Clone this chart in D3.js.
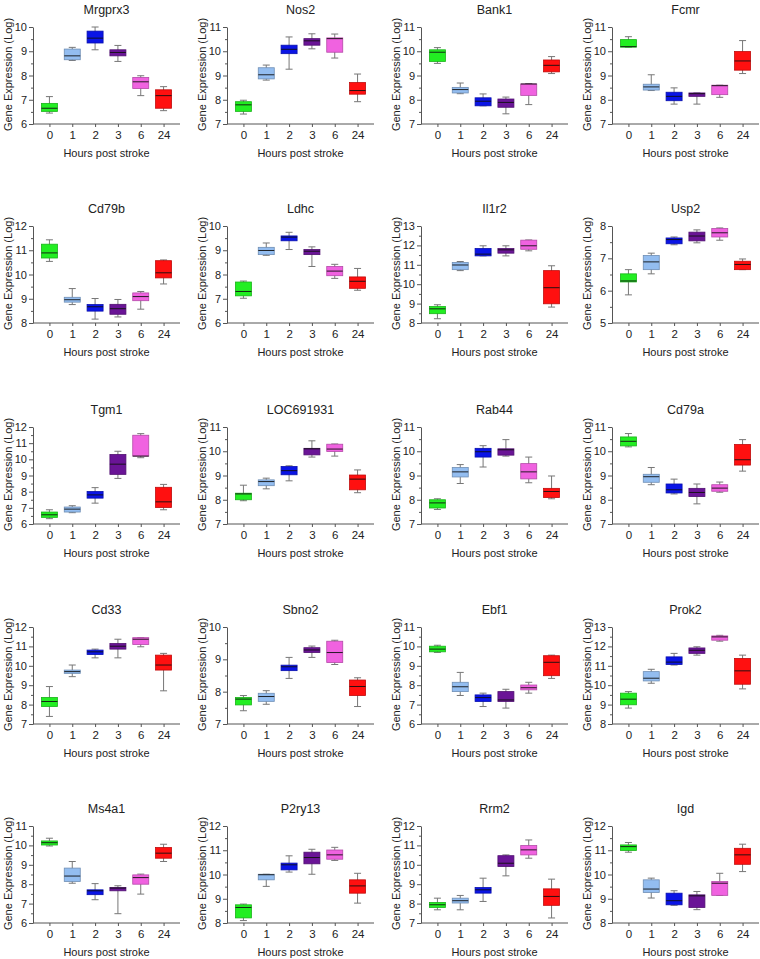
<!DOCTYPE html>
<html>
<head>
<meta charset="utf-8">
<script src="https://cdn.jsdelivr.net/npm/d3@7"></script>
<style>
  body { margin: 0; background: #fff; }
  text { font-family: "Liberation Sans", Arial, sans-serif; fill: #222; }
</style>
</head>
<body>
<div id="chart"></div>
<script>
// categories (hours post stroke) and box colours
const hours = ["0", "1", "2", "3", "6", "24"];
const hourColors = ["#22ee22", "#93bdf0", "#0a14e6", "#6a1496", "#f062e0", "#ff1010"];

// per gene: [whisker low, q1, median, q3, whisker high] for each hour
const Mrgprx3 = [[6.45,6.52,6.65,6.85,7.13],[8.62,8.65,8.81,9.09,9.16],[9.06,9.34,9.54,9.83,10.0],[8.58,8.81,8.95,9.06,9.24],[7.17,7.46,7.74,7.92,7.99],[6.55,6.65,7.17,7.41,7.54]];
const Nos2 = [[7.41,7.52,7.79,7.92,7.98],[8.81,8.86,9.03,9.32,9.43],[9.26,9.9,10.08,10.25,10.59],[10.1,10.25,10.43,10.52,10.72],[9.72,9.96,10.52,10.55,10.71],[7.92,8.23,8.38,8.71,9.06]];
const Bank1 = [[9.5,9.58,9.96,10.06,10.15],[8.25,8.28,8.42,8.51,8.69],[7.75,7.75,7.94,8.08,8.24],[7.42,7.69,7.89,8.03,8.11],[7.8,8.18,8.65,8.65,8.67],[9.08,9.15,9.42,9.64,9.78]];
const Fcmr = [[10.17,10.17,10.19,10.48,10.6],[8.38,8.4,8.53,8.64,9.03],[7.82,7.96,8.14,8.31,8.49],[7.82,8.14,8.25,8.28,8.28],[8.1,8.21,8.58,8.6,8.6],[9.08,9.22,9.6,9.99,10.44]];
const Cd79b = [[10.54,10.68,10.89,11.25,11.43],[8.76,8.86,8.96,9.06,9.42],[8.16,8.49,8.67,8.76,9.01],[8.25,8.36,8.59,8.77,8.97],[8.57,8.92,9.09,9.24,9.3],[9.61,9.86,10.07,10.57,10.6]];
const Ldhc = [[7.02,7.12,7.3,7.69,7.73],[8.79,8.82,8.99,9.12,9.3],[9.03,9.39,9.54,9.59,9.74],[8.33,8.82,8.96,9.03,9.14],[7.84,7.95,8.14,8.33,8.42],[7.35,7.43,7.72,7.9,8.25]];
const Il1r2 = [[8.22,8.48,8.73,8.85,8.94],[10.7,10.75,10.99,11.12,11.17],[11.46,11.46,11.55,11.84,11.98],[11.46,11.6,11.77,11.84,11.98],[11.72,11.8,11.98,12.27,12.28],[8.82,8.99,9.82,10.7,10.95]];
const Usp2 = [[5.87,6.27,6.3,6.52,6.65],[6.52,6.65,6.89,7.09,7.16],[7.42,7.45,7.58,7.63,7.66],[7.48,7.54,7.69,7.81,7.88],[7.56,7.66,7.79,7.92,7.94],[6.65,6.65,6.81,6.91,6.98]];
const Tgm1 = [[6.33,6.41,6.57,6.74,6.88],[6.7,6.74,6.92,7.05,7.13],[7.29,7.6,7.8,8.01,8.25],[8.82,9.07,9.7,10.3,10.5],[10.1,10.2,10.2,11.49,11.59],[6.88,7.02,7.37,8.27,8.45]];
const LOC691931 = [[7.96,8.0,8.24,8.27,8.6],[8.45,8.58,8.75,8.82,8.89],[8.78,9.03,9.2,9.37,9.4],[9.76,9.85,10.1,10.12,10.43],[9.8,9.99,10.09,10.29,10.3],[8.29,8.41,8.85,9.02,9.23]];
const Rab44 = [[7.6,7.66,7.87,8.0,8.04],[8.67,8.94,9.15,9.33,9.45],[9.35,9.76,9.98,10.12,10.23],[9.8,9.84,10.06,10.1,10.48],[8.7,8.86,9.15,9.49,9.76],[8.04,8.09,8.34,8.47,8.98]];
const Cd79a = [[10.18,10.22,10.41,10.59,10.73],[8.62,8.72,8.95,9.05,9.33],[8.24,8.28,8.41,8.65,8.85],[7.83,8.13,8.3,8.47,8.65],[8.31,8.35,8.48,8.62,8.73],[9.18,9.43,9.65,10.28,10.48]];
const Cd33 = [[7.39,7.9,8.16,8.37,8.93],[9.44,9.61,9.7,9.78,10.04],[10.41,10.58,10.72,10.81,10.86],[10.41,10.86,11.01,11.15,11.37],[10.98,11.1,11.37,11.45,11.45],[8.71,9.78,10.04,10.55,10.64]];
const Sbno2 = [[7.41,7.59,7.77,7.82,7.88],[7.61,7.7,7.85,7.95,8.03],[8.41,8.65,8.77,8.82,9.06],[9.06,9.21,9.29,9.36,9.41],[8.84,8.9,9.21,9.56,9.59],[7.54,7.88,8.16,8.36,8.43]];
const Ebf1 = [[9.69,9.72,9.86,10.01,10.06],[7.47,7.67,7.92,8.15,8.66],[6.9,7.16,7.36,7.5,7.59],[6.82,7.16,7.24,7.67,7.79],[7.59,7.76,7.87,8.01,8.15],[8.35,8.49,9.18,9.52,9.55]];
const Prok2 = [[8.82,8.99,9.28,9.59,9.67],[10.1,10.22,10.36,10.7,10.82],[11.04,11.07,11.19,11.46,11.64],[11.55,11.64,11.8,11.92,11.98],[12.27,12.32,12.49,12.54,12.57],[9.81,10.05,10.74,11.38,11.55]];
const Ms4a1 = [[9.97,10.02,10.14,10.23,10.37],[8.05,8.14,8.42,8.83,9.17],[7.2,7.46,7.66,7.71,8.03],[6.48,7.66,7.8,7.83,7.92],[7.49,8.0,8.34,8.48,8.52],[9.17,9.34,9.6,9.89,10.06]];
const P2ry13 = [[8.1,8.21,8.64,8.75,8.78],[9.51,9.78,9.99,10.01,10.01],[10.1,10.19,10.4,10.47,10.77],[10.01,10.44,10.7,10.92,11.04],[10.58,10.63,10.81,11.01,11.12],[8.82,9.23,9.53,9.78,10.05]];
const Rrm2 = [[7.68,7.8,7.94,8.06,8.28],[7.68,8.03,8.15,8.28,8.42],[8.11,8.54,8.71,8.83,9.31],[9.43,9.91,10.08,10.47,10.51],[10.34,10.51,10.77,10.99,11.28],[7.26,7.91,8.37,8.76,9.26]];
const Igd = [[10.92,10.99,11.15,11.22,11.32],[9.03,9.26,9.4,9.78,9.85],[8.73,8.75,8.92,9.23,9.33],[8.55,8.64,9.12,9.16,9.3],[9.14,9.14,9.64,9.71,10.05],[10.12,10.42,10.81,11.08,11.25]];

// panel order, titles and y-axis ranges
const genes = ["Mrgprx3","Nos2","Bank1","Fcmr","Cd79b","Ldhc","Il1r2","Usp2","Tgm1","LOC691931","Rab44","Cd79a","Cd33","Sbno2","Ebf1","Prok2","Ms4a1","P2ry13","Rrm2","Igd"];
const geneStats = [Mrgprx3,Nos2,Bank1,Fcmr,Cd79b,Ldhc,Il1r2,Usp2,Tgm1,LOC691931,Rab44,Cd79a,Cd33,Sbno2,Ebf1,Prok2,Ms4a1,P2ry13,Rrm2,Igd];
const yRanges = [[6,10],[7,11],[7,11],[7,11],[8,12],[6,10],[8,13],[5,8],[6,12],[7,11],[7,11],[7,11],[7,12],[7,10],[6,11],[8,13],[6,11],[8,12],[7,12],[8,12]];

const W = 760, H = 959;
const colX = [33, 227, 421, 612];   // y-axis position of each column
const rowY = [27, 226, 427, 627, 826]; // top of each plot
const plotW = 147, plotH = 97, boxW = 16, capW = 7;

const svg = d3.select("#chart").append("svg")
    .attr("width", W).attr("height", H);

genes.forEach((gene, i) => {
    const col = i % 4, row = Math.floor(i / 4);
    const g = svg.append("g")
        .attr("transform", `translate(${colX[col]},${rowY[row]})`);

    const x = d3.scalePoint().domain(hours).range([0, plotW]).padding(0.72);
    const y = d3.scaleLinear().domain(yRanges[i]).range([plotH, 0]);

    // minor ticks
    const [y0, y1] = yRanges[i];
    g.append("g")
        .call(d3.axisLeft(y).tickValues(d3.range(y0 + 0.5, y1, 1)).tickSize(2).tickFormat(""))
        .call(a => a.select(".domain").remove())
        .selectAll("line").attr("stroke", "#555");

    // y axis
    const ya = g.append("g")
        .call(d3.axisLeft(y).tickValues(d3.range(y0, y1 + 1, 1)).tickSize(4).tickSizeOuter(0).tickPadding(2).tickFormat(d3.format("d")));
    ya.select(".domain").attr("stroke", "#555");
    ya.selectAll("line").attr("stroke", "#555");
    ya.selectAll("text").style("font-size", "11px").attr("fill", "#222");

    // x axis
    const xa = g.append("g")
        .attr("transform", `translate(0,${plotH})`)
        .call(d3.axisBottom(x).tickSize(3).tickSizeOuter(0).tickPadding(4));
    xa.select(".domain").attr("stroke", "#555").attr("d", `M0,0H${plotW}`);
    xa.selectAll("line").attr("stroke", "#555");
    xa.selectAll("text").style("font-size", "11.5px").attr("fill", "#222");

    // boxes
    const boxes = g.selectAll(".box")
        .data(geneStats[i])
        .enter().append("g")
        .attr("class", "box")
        .attr("transform", (d, j) => `translate(${x(hours[j])},0)`);

    boxes.append("line")
        .attr("y1", d => y(d[0])).attr("y2", d => y(d[4]))
        .attr("stroke", "#777");
    boxes.append("line")
        .attr("x1", -capW / 2).attr("x2", capW / 2)
        .attr("y1", d => y(d[4])).attr("y2", d => y(d[4]))
        .attr("stroke", "#777");
    boxes.append("line")
        .attr("x1", -capW / 2).attr("x2", capW / 2)
        .attr("y1", d => y(d[0])).attr("y2", d => y(d[0]))
        .attr("stroke", "#777");
    boxes.append("rect")
        .attr("x", -boxW / 2).attr("width", boxW)
        .attr("y", d => y(d[3]))
        .attr("height", d => Math.max(1, y(d[1]) - y(d[3])))
        .attr("fill", (d, j) => hourColors[j])
        .attr("stroke", (d, j) => d3.color(hourColors[j]).darker(0.8))
        .attr("stroke-width", 0.8);
    boxes.append("line")
        .attr("x1", -boxW / 2).attr("x2", boxW / 2)
        .attr("y1", d => y(d[2])).attr("y2", d => y(d[2]))
        .attr("stroke", "#111").attr("stroke-width", 0.9);

    // title
    g.append("text")
        .attr("x", plotW / 2).attr("y", -13)
        .attr("text-anchor", "middle")
        .style("font-size", "12.5px")
        .text(gene);

    // x label
    g.append("text")
        .attr("x", plotW / 2).attr("y", plotH + 33)
        .attr("text-anchor", "middle")
        .style("font-size", "11px")
        .text("Hours post stroke");

    // y label
    g.append("text")
        .attr("transform", "rotate(-90)")
        .attr("x", -plotH / 2 + 1).attr("y", -21)
        .attr("text-anchor", "middle")
        .style("font-size", "11px")
        .text("Gene Expression (Log)");
});
</script>
</body>
</html>
